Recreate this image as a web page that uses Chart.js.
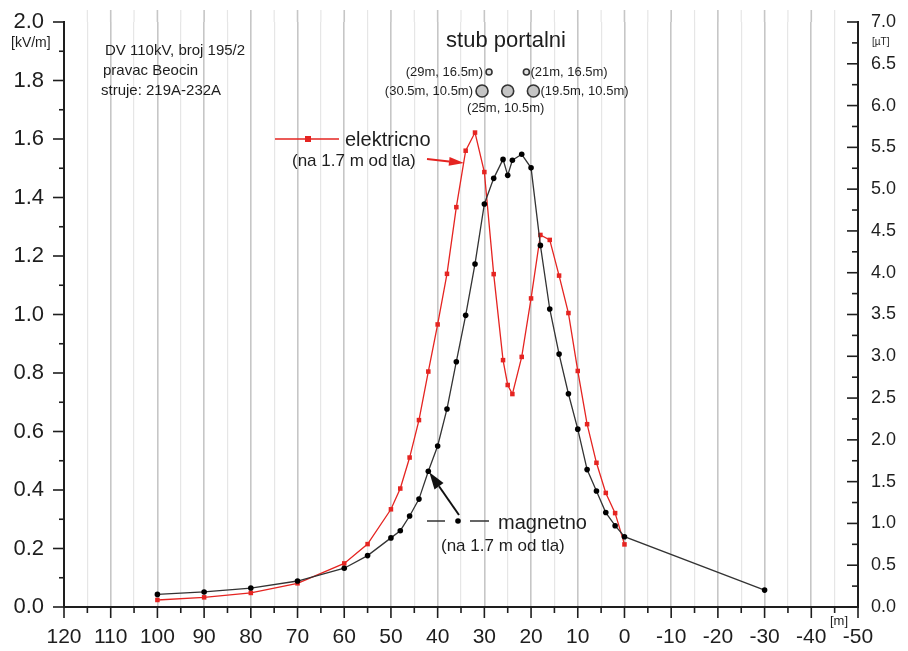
<!DOCTYPE html>
<html>
<head>
<meta charset="utf-8">
<script src="https://cdn.jsdelivr.net/npm/chart.js@4.4.1/dist/chart.umd.min.js"></script>
<style>
  html, body { margin: 0; padding: 0; background: #fff; }
  #wrap { width: 908px; height: 651px; }
</style>
</head>
<body>
<div id="wrap"><canvas id="fieldChart" width="908" height="651"></canvas></div>
<script>
// ---- PODACI ----
// udaljenost od ose voda [m]
const elX = [100, 90, 80, 70, 60, 55, 50, 48, 46, 44, 42, 40, 38, 36, 34, 32, 30, 28, 26, 25, 24, 22, 20, 18, 16, 14, 12, 10, 8, 6, 4, 2, 0];
// elektricno polje [kV/m]
const elE = [0.024, 0.033, 0.048, 0.081, 0.149, 0.215, 0.334, 0.405, 0.511, 0.639, 0.805, 0.966, 1.139, 1.367, 1.560, 1.622, 1.487, 1.138, 0.844, 0.759, 0.728, 0.855, 1.055, 1.272, 1.255, 1.133, 1.005, 0.807, 0.625, 0.493, 0.390, 0.321, 0.214];

const magX = [100, 90, 80, 70, 60, 55, 50, 48, 46, 44, 42, 40, 38, 36, 34, 32, 30, 28, 26, 25, 24, 22, 20, 18, 16, 14, 12, 10, 8, 6, 4, 2, 0, -30];
// magnetna indukcija [uT]
const magB = [0.151, 0.180, 0.227, 0.311, 0.464, 0.615, 0.827, 0.913, 1.089, 1.291, 1.624, 1.927, 2.370, 2.935, 3.490, 4.105, 4.822, 5.129, 5.356, 5.165, 5.346, 5.417, 5.255, 4.327, 3.566, 3.026, 2.552, 2.128, 1.644, 1.388, 1.130, 0.973, 0.841, 0.202];

// provodnici na stubu (skica iznad krivih)
const condX = [29, 21, 30.5, 25, 19.5];
const condY = [1.829, 1.829, 1.764, 1.764, 1.764];
const condR = [3, 3, 6, 6, 6];
const condLabels = ["(29m, 16.5m)", "(21m, 16.5m)", "(30.5m, 10.5m)", "(25m, 10.5m)", "(19.5m, 10.5m)"];
const condSide = ["left", "right", "left", "below", "right"];

// podeoci osa
const xMajor = [120, 110, 100, 90, 80, 70, 60, 50, 40, 30, 20, 10, 0, -10, -20, -30, -40, -50];
const eMajor = [0.0, 0.2, 0.4, 0.6, 0.8, 1.0, 1.2, 1.4, 1.6, 1.8, 2.0];
const bMajor = [0.0, 0.5, 1.0, 1.5, 2.0, 2.5, 3.0, 3.5, 4.0, 4.5, 5.0, 5.5, 6.0, 6.5, 7.0];

const FONT = '"Liberation Sans", Arial, sans-serif';
const RED = "#e52421";
const INK = "#1e1e1e";
const GRID_MAJOR = "#c6c6c6";
const GRID_MINOR = "#e6e6e6";

// glavni + pomocni podeoci (pomocni na sredini)
function withMinor(major) {
  const out = [];
  major.forEach((v, i) => {
    out.push({ value: v, mj: true });
    if (i < major.length - 1) out.push({ value: (v + major[i + 1]) / 2, mj: false });
  });
  return out;
}

const toXY = (xs, ys) => xs.map((x, i) => ({ x: x, y: ys[i] }));

// fiksne dimenzije osa, bez dodatnog razmaka za natpise na krajevima
function fixSize(prop, size) {
  return (s) => {
    s[prop] = size;
    s.paddingTop = 0;
    s.paddingBottom = 0;
    s.paddingLeft = 0;
    s.paddingRight = 0;
  };
}

// ---- MREZA IZNAD GORNJE IVICE ----
const gridTop = {
  id: "gridTop",
  beforeDatasetsDraw(chart) {
    const c = chart.ctx;
    const { x } = chart.scales;
    const top = chart.chartArea.top;
    c.save();
    x.ticks.forEach((t) => {
      const px = x.getPixelForValue(t.value);
      if (px <= chart.chartArea.left + 1 || px >= chart.chartArea.right - 1) return;
      c.strokeStyle = t.mj ? GRID_MAJOR : GRID_MINOR;
      c.lineWidth = t.mj ? 1.6 : 1.2;
      c.beginPath();
      c.moveTo(px, top);
      c.lineTo(px, top - 12);
      c.stroke();
    });
    c.restore();
  },
};

// ---- CRTICE NA OSAMA ----
const tickMarks = {
  id: "tickMarks",
  afterDraw(chart) {
    const c = chart.ctx;
    const { x, y, y1 } = chart.scales;
    c.save();
    c.strokeStyle = INK;
    c.lineWidth = 1.6;
    x.ticks.forEach((t) => {
      const px = x.getPixelForValue(t.value);
      c.beginPath();
      c.moveTo(px, x.top);
      c.lineTo(px, x.top + (t.mj ? 11 : 6));
      c.stroke();
    });
    y.ticks.forEach((t) => {
      const py = y.getPixelForValue(t.value);
      c.beginPath();
      c.moveTo(y.right, py);
      c.lineTo(y.right - (t.mj ? 11 : 5), py);
      c.stroke();
    });
    y1.ticks.forEach((t) => {
      const py = y1.getPixelForValue(t.value);
      c.beginPath();
      c.moveTo(y1.left, py);
      c.lineTo(y1.left - (t.mj ? 11 : 6), py);
      c.stroke();
    });
    c.restore();
  },
};

function arrow(c, x1, y1, x2, y2, color, headLen, headHalf) {
  const a = Math.atan2(y2 - y1, x2 - x1);
  const bx = x2 - headLen * Math.cos(a);
  const by = y2 - headLen * Math.sin(a);
  c.strokeStyle = color;
  c.fillStyle = color;
  c.lineWidth = 2;
  c.beginPath();
  c.moveTo(x1, y1);
  c.lineTo(bx, by);
  c.stroke();
  c.beginPath();
  c.moveTo(x2, y2);
  c.lineTo(bx + headHalf * Math.sin(a), by - headHalf * Math.cos(a));
  c.lineTo(bx - headHalf * Math.sin(a), by + headHalf * Math.cos(a));
  c.closePath();
  c.fill();
}

// ---- NATPISI, LEGENDA, STRELICE ----
const notes = {
  id: "notes",
  afterDraw(chart) {
    const c = chart.ctx;
    const { x, y1 } = chart.scales;
    c.save();
    c.fillStyle = INK;
    c.textBaseline = "middle";

    // jedinice osa
    c.font = "14px " + FONT;
    c.textAlign = "left";
    c.fillText("[kV/m]", 11, 43);
    c.font = "10px " + FONT;
    c.fillText("[\u00b5T]", 872, 42);
    c.font = "13px " + FONT;
    c.fillText("[m]", 830, 621);

    // opis voda
    c.font = "15px " + FONT;
    c.fillText("DV 110kV, broj 195/2", 105, 51);
    c.fillText("pravac Beocin", 103, 71);
    c.fillText("struje: 219A-232A", 101, 91);

    c.font = "22px " + FONT;
    c.textAlign = "center";
    c.fillText("stub portalni", 506, 41);

    // oznake provodnika
    const meta = chart.getDatasetMeta(2);
    c.font = "13px " + FONT;
    meta.data.forEach((pt, i) => {
      const side = condSide[i];
      if (side === "left") {
        c.textAlign = "right";
        c.fillText(condLabels[i], pt.x - condR[i] - 3, pt.y);
      } else if (side === "right") {
        c.textAlign = "left";
        c.fillText(condLabels[i], pt.x + condR[i] + 1, pt.y);
      } else {
        c.textAlign = "center";
        c.fillText(condLabels[i], pt.x - 2, pt.y + 17);
      }
    });

    // legenda - elektricno
    c.strokeStyle = RED;
    c.lineWidth = 1.3;
    c.beginPath();
    c.moveTo(275, 139);
    c.lineTo(339, 139);
    c.stroke();
    c.fillStyle = RED;
    c.fillRect(305, 136, 6, 6);
    c.fillStyle = INK;
    c.textAlign = "left";
    c.font = "20px " + FONT;
    c.fillText("elektricno", 345, 140);
    c.font = "17px " + FONT;
    c.fillText("(na 1.7 m od tla)", 292, 161);
    arrow(c, 427, 159, 464, 163, RED, 15, 4.5);

    // legenda - magnetno
    c.strokeStyle = "#333";
    c.lineWidth = 1.3;
    c.beginPath();
    c.moveTo(427, 521);
    c.lineTo(445, 521);
    c.moveTo(470, 521);
    c.lineTo(489, 521);
    c.stroke();
    c.fillStyle = "#000";
    c.beginPath();
    c.arc(458, 521, 2.8, 0, Math.PI * 2);
    c.fill();
    c.fillStyle = INK;
    c.font = "20px " + FONT;
    c.fillText("magnetno", 498, 523);
    c.font = "17px " + FONT;
    c.fillText("(na 1.7 m od tla)", 441, 546);
    const k = magX.indexOf(42);
    arrow(c, 459, 515, x.getPixelForValue(magX[k]) + 1, y1.getPixelForValue(magB[k]) + 1, "#111", 17, 5.5);

    c.restore();
  },
};

const ctx = document.getElementById("fieldChart").getContext("2d");
const fieldChart = new Chart(ctx, {
  type: "line",
  data: {
    datasets: [
      {
        label: "magnetno",
        data: toXY(magX, magB),
        yAxisID: "y1",
        borderColor: "#333",
        borderWidth: 1.3,
        pointStyle: "circle",
        pointRadius: 2.8,
        pointBackgroundColor: "#000",
        pointBorderWidth: 0,
        tension: 0,
        order: 1,
      },
      {
        label: "elektricno",
        data: toXY(elX, elE),
        yAxisID: "y",
        borderColor: RED,
        borderWidth: 1.3,
        pointStyle: "rect",
        pointRadius: 3.2,
        pointBackgroundColor: RED,
        pointBorderWidth: 0,
        tension: 0,
        order: 2,
      },
      {
        label: "provodnici",
        data: toXY(condX, condY),
        yAxisID: "y",
        showLine: false,
        pointRadius: condR,
        pointBackgroundColor: ["#e2e2e2", "#e2e2e2", "#c4c4c4", "#c4c4c4", "#c4c4c4"],
        pointBorderColor: "#333",
        pointBorderWidth: 1.6,
        order: 0,
      },
    ],
  },
  options: {
    responsive: false,
    animation: false,
    events: [],
    layout: { padding: { top: 22, left: 0, right: 0, bottom: 0 } },
    plugins: { legend: { display: false }, tooltip: { enabled: false } },
    scales: {
      x: {
        type: "linear",
        reverse: true,
        min: -50,
        max: 120,
        afterBuildTicks: (s) => { s.ticks = withMinor(xMajor); },
        afterFit: fixSize("height", 44),
        ticks: {
          autoSkip: false,
          maxRotation: 0,
          padding: 18,
          color: INK,
          font: { family: FONT, size: 21 },
          callback: (v, i, ticks) => (ticks[i].mj ? String(v) : ""),
        },
        grid: {
          drawTicks: false,
          color: (c) => (c.tick && c.tick.mj ? GRID_MAJOR : GRID_MINOR),
          lineWidth: (c) => (c.tick && c.tick.mj ? 1.6 : 1.2),
        },
        border: { display: true, color: INK, width: 2 },
      },
      y: {
        type: "linear",
        position: "left",
        min: 0,
        max: 2.0,
        afterBuildTicks: (s) => { s.ticks = withMinor(eMajor); },
        afterFit: fixSize("width", 64),
        ticks: {
          autoSkip: false,
          padding: 20,
          color: INK,
          font: { family: FONT, size: 22 },
          callback: (v, i, ticks) => (ticks[i].mj ? v.toFixed(1) : ""),
        },
        grid: { display: false, drawTicks: false },
        border: { display: true, color: INK, width: 2 },
      },
      y1: {
        type: "linear",
        position: "right",
        min: 0,
        max: 7.0,
        afterBuildTicks: (s) => { s.ticks = withMinor(bMajor); },
        afterFit: fixSize("width", 50),
        ticks: {
          autoSkip: false,
          padding: 13,
          color: INK,
          font: { family: FONT, size: 18 },
          callback: (v, i, ticks) => (ticks[i].mj ? v.toFixed(1) : ""),
        },
        grid: { display: false, drawTicks: false },
        border: { display: true, color: INK, width: 2 },
      },
    },
  },
  plugins: [gridTop, tickMarks, notes],
});
</script>
</body>
</html>
